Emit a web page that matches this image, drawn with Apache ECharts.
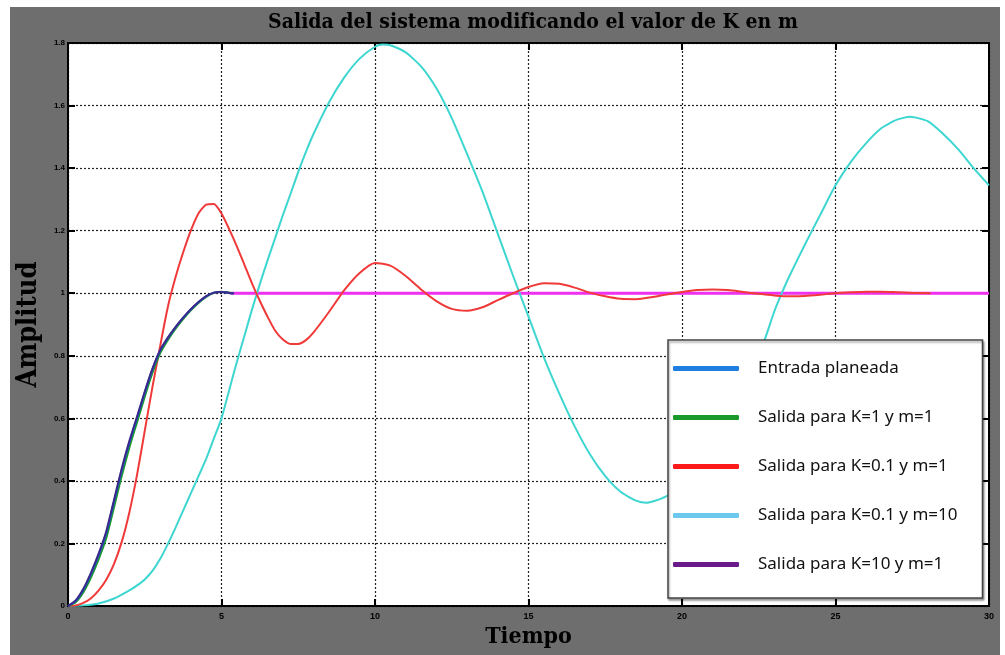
<!doctype html>
<html lang="es">
<head>
    <meta charset="UTF-8">
    <title>Salida del sistema</title>
    <style>
        body { margin: 0; padding: 0; background: #ffffff; }
        #main { width: 1005px; height: 655px; }
    </style>
</head>
<body>
    <div id="main"></div>

    <script src="https://cdn.jsdelivr.net/npm/echarts@6.0.0/dist/echarts.min.js"></script>
    <script>
        // valores (tiempo, amplitud)
        var entradaT = [0, 0.25, 0.5, 0.75, 1.0, 1.25, 1.5, 1.75, 2.0, 2.25, 2.5, 2.75, 3.0, 3.25, 3.5, 3.75, 4.0, 4.25, 4.5, 4.75, 5.0, 5.25, 5.4];
        var entradaY = [0, 0.016, 0.052, 0.103, 0.163, 0.234, 0.334, 0.434, 0.523, 0.602, 0.682, 0.756, 0.816, 0.856, 0.891, 0.921, 0.948, 0.971, 0.99, 1.002, 1.004, 1.001, 1.0];

        var k1m1T = [0, 0.25, 0.5, 0.75, 1.0, 1.25, 1.5, 1.75, 2.0, 2.25, 2.5, 2.75, 3.0, 3.25, 3.5, 3.75, 4.0, 4.25, 4.5, 4.75, 5.0, 5.25, 5.4];
        var k1m1Y = [0, 0.012, 0.044, 0.092, 0.15, 0.218, 0.316, 0.416, 0.507, 0.588, 0.669, 0.745, 0.808, 0.85, 0.886, 0.917, 0.945, 0.969, 0.988, 1.001, 1.005, 1.002, 1.0];

        var k01m1T = [0, 0.25, 0.5, 0.75, 1.0, 1.25, 1.5, 1.75, 2.0, 2.25, 2.5, 2.75, 3.0, 3.25, 3.5, 3.75, 4.0, 4.25, 4.5, 4.75, 5.0, 5.25, 5.5, 5.75, 6.0, 6.25, 6.5, 6.75, 7.0, 7.25, 7.5, 7.75, 8.0, 8.5, 9.0, 9.5, 10.0, 10.5, 11.0, 11.5, 12.0, 12.5, 13.0, 13.5, 14.0, 14.5, 15.0, 15.5, 16.0, 16.5, 17.0, 17.5, 18.0, 18.5, 19.0, 19.5, 20.0, 20.5, 21.0, 21.5, 22.0, 22.5, 23.0, 23.5, 24.0, 24.5, 25.0, 25.5, 26.0, 26.5, 27.0, 27.5, 28.1];
        var k01m1Y = [0, 0.002, 0.01, 0.025, 0.05, 0.085, 0.135, 0.205, 0.3, 0.42, 0.56, 0.7, 0.83, 0.955, 1.05, 1.13, 1.2, 1.255, 1.283, 1.285, 1.255, 1.205, 1.15, 1.09, 1.03, 0.975, 0.925, 0.88, 0.852, 0.838, 0.838, 0.85, 0.875, 0.94, 1.01, 1.065, 1.097, 1.088, 1.055, 1.012, 0.975, 0.95, 0.944, 0.955, 0.978, 1.0, 1.02, 1.032, 1.03, 1.018, 1.002, 0.99, 0.982, 0.981, 0.987, 0.996, 1.004, 1.01, 1.012, 1.01, 1.004, 0.998, 0.993, 0.99, 0.991, 0.995, 1.0, 1.003, 1.005, 1.005, 1.003, 1.001, 1.0];

        var k01m10T = [0, 0.5, 1.0, 1.5, 2.0, 2.25, 2.5, 2.75, 3.0, 3.25, 3.5, 3.75, 4.0, 4.25, 4.5, 4.75, 5.0, 5.25, 5.5, 5.75, 6.0, 6.25, 6.5, 6.75, 7.0, 7.25, 7.5, 7.75, 8.0, 8.5, 9.0, 9.5, 10.0, 10.25, 10.5, 11.0, 11.5, 12.0, 12.5, 13.0, 13.5, 14.0, 14.5, 15.0, 15.5, 16.0, 16.5, 17.0, 17.5, 18.0, 18.5, 18.85, 19.34, 20.0, 20.5, 21.0, 21.5, 22.0, 22.5, 22.76, 23.0, 23.25, 23.5, 24.0, 24.5, 25.0, 25.5, 26.0, 26.5, 27.0, 27.43, 28.0, 28.5, 29.0, 29.5, 30];
        var k01m10Y = [0, 0.002, 0.008, 0.024, 0.05, 0.066, 0.085, 0.112, 0.15, 0.198, 0.25, 0.305, 0.36, 0.415, 0.47, 0.535, 0.6, 0.69, 0.78, 0.865, 0.95, 1.03, 1.105, 1.177, 1.25, 1.318, 1.388, 1.452, 1.51, 1.61, 1.69, 1.75, 1.788, 1.795, 1.793, 1.77, 1.725, 1.655, 1.56, 1.445, 1.325, 1.19, 1.055, 0.925, 0.795, 0.68, 0.575, 0.485, 0.415, 0.365, 0.337, 0.33, 0.344, 0.38, 0.43, 0.5, 0.59, 0.69, 0.8, 0.87, 0.94, 1.0, 1.055, 1.155, 1.25, 1.345, 1.42, 1.48, 1.528, 1.555, 1.564, 1.55, 1.51, 1.46, 1.4, 1.345];

        var k10m1T = [0, 0.25, 0.5, 0.75, 1.0, 1.25, 1.5, 1.75, 2.0, 2.25, 2.5, 2.75, 3.0, 3.25, 3.5, 3.75, 4.0, 4.25, 4.5, 4.75, 5.0, 5.25, 5.4];
        var k10m1Y = [0, 0.018, 0.055, 0.107, 0.168, 0.24, 0.34, 0.44, 0.528, 0.606, 0.686, 0.759, 0.818, 0.858, 0.892, 0.922, 0.949, 0.972, 0.991, 1.002, 1.004, 1.001, 1.0];

        // tramo estacionario en 1
        var finalT = [5.3, 30];
        var finalY = [1, 1];

        var nombres = ['Entrada planeada', 'Salida para K=1 y m=1', 'Salida para K=0.1 y m=1', 'Salida para K=0.1 y m=10', 'Salida para K=10 y m=1'];
        var coloresLeyenda = ['#1f7fe0', '#1a9a2a', '#ff1a1a', '#6cc8ec', '#6a1a8a'];

        function pares(t, y) {
            var out = [];
            for (var i = 0; i < t.length; i++) out.push([t[i], y[i]]);
            return out;
        }

        function serie(nombre, t, y, color, ancho) {
            return {
                name: nombre,
                type: 'line',
                data: pares(t, y),
                smooth: 0.2,
                showSymbol: false,
                symbol: 'none',
                lineStyle: { color: color, width: ancho },
                itemStyle: { color: color },
                z: 3
            };
        }

        var serifBold = "'DejaVu Serif Condensed', 'DejaVu Serif', serif";

        var myChart = echarts.init(document.getElementById('main'));

        var ejeX = {
            type: 'value', min: 0, max: 30, interval: 5,
            axisLine: { show: true, onZero: false, lineStyle: { color: '#000', width: 2 } },
            axisTick: { show: true, inside: true, length: 7, lineStyle: { color: '#000', width: 2 } },
            splitLine: { show: false }
        };
        var ejeY = {
            type: 'value', min: 0, max: 1.8, interval: 0.2,
            axisLine: { show: true, onZero: false, lineStyle: { color: '#000', width: 2 } },
            axisTick: { show: true, inside: true, length: 7, lineStyle: { color: '#000', width: 2 } },
            splitLine: { show: false }
        };

        var option = {
            animation: false,
            backgroundColor: '#ffffff',
            graphic: [{
                type: 'rect',
                shape: { x: 10, y: 7, width: 990, height: 648 },
                style: { fill: '#6e6e6e' },
                z: -10
            }],
            title: {
                text: 'Salida del sistema modificando el valor de K en m',
                left: 528,
                top: 7,
                textAlign: 'center',
                textStyle: { fontFamily: serifBold, fontWeight: 'bold', fontSize: 21, color: '#000' }
            },
            grid: {
                left: 68, right: 16, top: 43, bottom: 49,
                show: true, backgroundColor: '#ffffff', borderWidth: 0
            },
            legend: {
                orient: 'vertical',
                left: 668,
                top: 340,
                z: 20,
                padding: [20, 25, 25, 5],
                itemGap: 32,
                itemWidth: 66,
                itemHeight: 5,
                icon: 'roundRect',
                backgroundColor: '#ffffff',
                borderColor: '#444',
                borderWidth: 1.5,
                shadowColor: 'rgba(0,0,0,0.35)',
                shadowOffsetX: 1,
                shadowOffsetY: 2,
                shadowBlur: 2,
                textStyle: { fontFamily: "'Noto Sans', sans-serif", fontSize: 17, color: '#111', padding: [0, 0, 0, 14] },
                data: nombres.map(function (n, i) {
                    return { name: n, itemStyle: { color: coloresLeyenda[i] } };
                })
            },
            xAxis: [
                Object.assign({}, ejeX, {
                    position: 'bottom',
                    name: 'Tiempo',
                    nameLocation: 'middle',
                    nameGap: 18,
                    nameTextStyle: { fontFamily: serifBold, fontWeight: 'bold', fontSize: 23, color: '#000' },
                    axisLabel: { fontSize: 9, fontWeight: 'bold', color: '#000', margin: 6 },
                    splitLine: { show: true, lineStyle: { color: '#222', width: 1.2, type: [2, 2] } }
                }),
                Object.assign({}, ejeX, { position: 'top', axisLabel: { show: false } })
            ],
            yAxis: [
                Object.assign({}, ejeY, {
                    position: 'left',
                    name: 'Amplitud',
                    nameLocation: 'middle',
                    nameGap: 22,
                    nameTextStyle: { fontFamily: serifBold, fontWeight: 'bold', fontSize: 27, color: '#000' },
                    axisLabel: { fontSize: 8, fontWeight: 'bold', color: '#000', margin: 3 },
                    splitLine: { show: true, lineStyle: { color: '#222', width: 1.2, type: [2, 2] } }
                }),
                Object.assign({}, ejeY, { position: 'right', axisLabel: { show: false } })
            ],
            series: [
                serie('Tramo final', finalT, finalY, '#f030f0', 3),
                serie(nombres[3], k01m10T, k01m10Y, '#3dd6d0', 2),
                serie(nombres[2], k01m1T, k01m1Y, '#f03a3a', 2),
                serie(nombres[1], k1m1T, k1m1Y, '#1a9a2a', 2),
                serie(nombres[0], entradaT, entradaY, '#2050d8', 2),
                serie(nombres[4], k10m1T, k10m1Y, '#3a2a8a', 2)
            ]
        };

        myChart.setOption(option);
    </script>
</body>
</html>
